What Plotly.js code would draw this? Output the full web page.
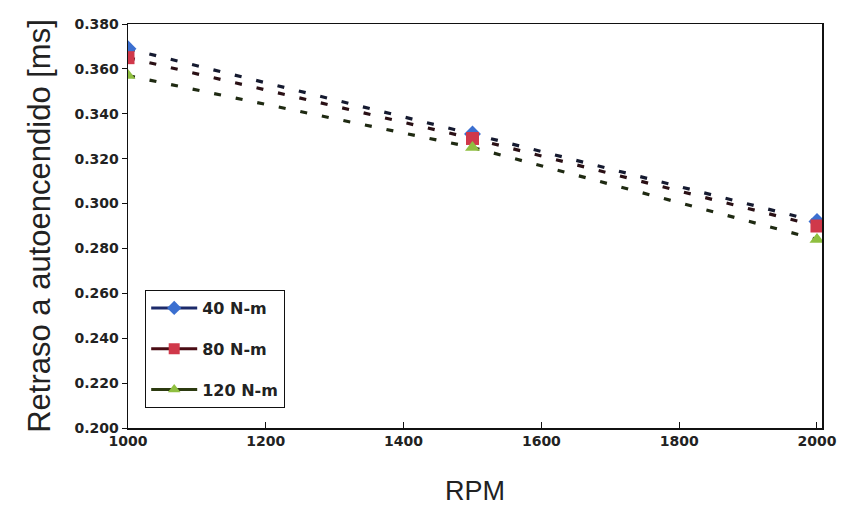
<!DOCTYPE html>
<html><head><meta charset="utf-8">
<script src="https://cdn.plot.ly/plotly-3.0.1.min.js"></script>
<style>html,body{margin:0;padding:0;background:#fff}</style>
</head><body>
<div id="chart" style="width:843px;height:511px"></div>
<script>
const rpm = [1000, 1500, 2000];
const s40 = [0.369, 0.331, 0.292];
const s80 = [0.365, 0.329, 0.290];
const s120 = [0.357, 0.325, 0.284];
const names = ['40 N-m', '80 N-m', '120 N-m'];
const yTicks = [0.2, 0.22, 0.24, 0.26, 0.28, 0.3, 0.32, 0.34, 0.36, 0.38];
const xTicks = [1000, 1200, 1400, 1600, 1800, 2000];

const styles = [
  {m: '#3b6fd0', l: '#151a30', s: 'diamond', lg: '#1c2a6a'},
  {m: '#d0384a', l: '#2a1015', s: 'square', lg: '#4a0c14'},
  {m: '#8fbf40', l: '#1f2a12', s: 'triangle-up', lg: '#2c3a10'}
];
const series = [s40, s80, s120];
const data = [];
series.forEach((y, i) => {
  const st = styles[i];
  data.push({
    x: rpm, y: y, name: names[i], type: 'scatter', mode: 'lines+markers',
    showlegend: false, legendgroup: 'g' + i,
    line: {color: st.l, width: 3.2, dash: '7px,15px'},
    marker: {color: st.m, symbol: st.s, size: 13, line: {width: 0}}
  });
});
series.forEach((y, i) => {
  const st = styles[i];
  data.push({
    x: [null], y: [null], name: names[i], type: 'scatter', mode: 'lines+markers',
    showlegend: true, legendgroup: 'g' + i,
    line: {color: st.lg, width: 3},
    marker: {color: st.m, symbol: st.s, size: 11, line: {width: 0}}
  });
});
const tf = {size: 14, color: '#222', family: 'DejaVu Sans, sans-serif', weight: 'bold'};
const layout = {
  width: 843, height: 511,
  margin: {l: 128, r: 21, t: 24, b: 83},
  paper_bgcolor: '#fff', plot_bgcolor: '#fff',
  font: {family: 'Liberation Sans, Arial, sans-serif', color: '#222'},
  xaxis: {
    range: [1000, 2007.3], tickvals: xTicks, ticktext: xTicks.map(String),
    showgrid: false, zeroline: false, showline: true, linecolor: '#111', linewidth: 1.5,
    mirror: true, ticks: 'inside', ticklen: 6, tickcolor: '#111',
    tickfont: tf,
    title: {text: 'RPM', font: {size: 27, color: '#222'}, standoff: 33}
  },
  yaxis: {
    range: [0.2, 0.38], tickvals: yTicks, ticktext: yTicks.map(v => v.toFixed(3)),
    showgrid: false, zeroline: false, showline: true, linecolor: '#111', linewidth: 1.5,
    mirror: true, ticks: 'outside', ticklen: 5, tickcolor: '#111',
    tickfont: tf,
    title: {text: 'Retraso a autoencendido [ms]', font: {size: 31, color: '#222'}, standoff: 14}
  },
  showlegend: true,
  legend: {
    x: 0.0245, y: 0.342, xanchor: 'left', yanchor: 'top',
    bordercolor: '#111', borderwidth: 1.2, bgcolor: '#fff',
    font: {size: 16, color: '#222', family: 'DejaVu Sans, sans-serif', weight: 'bold'},
    tracegroupgap: 17, itemwidth: 46
  }
};
Plotly.newPlot('chart', data, layout, {displayModeBar: false, staticPlot: true});
</script>
</body></html>
